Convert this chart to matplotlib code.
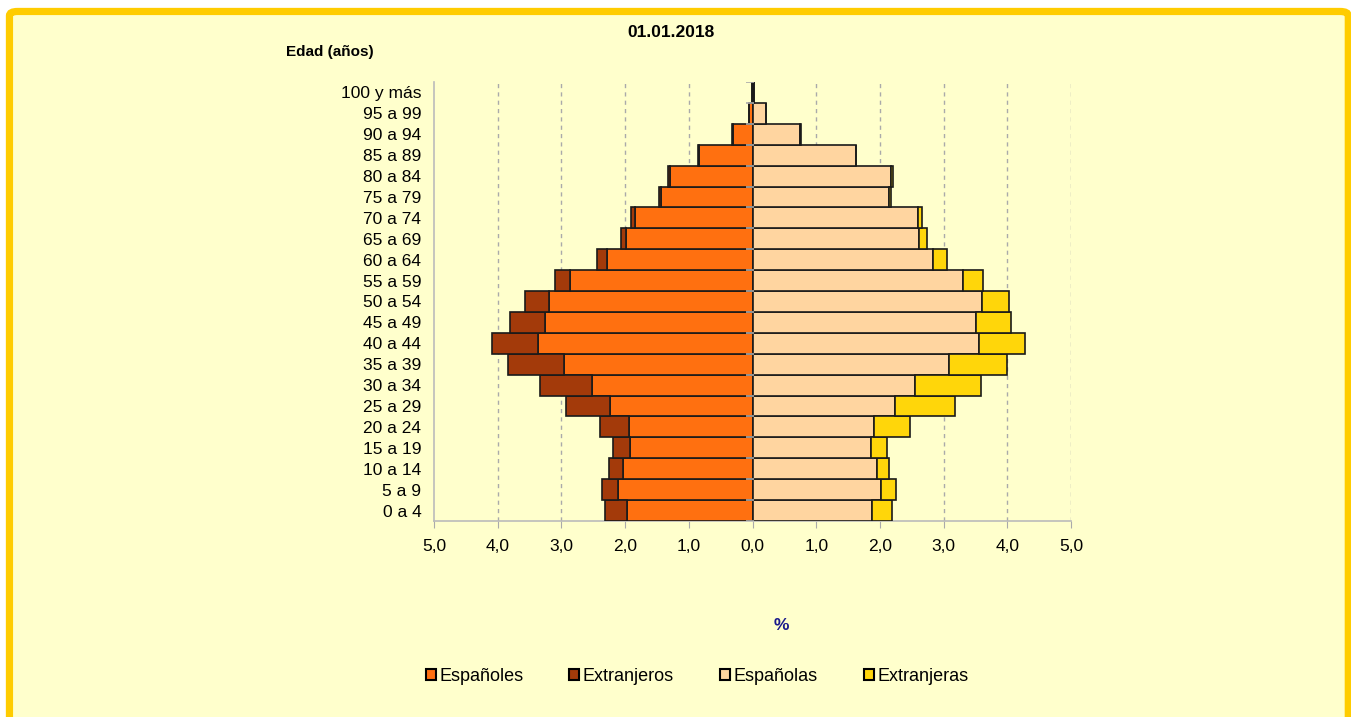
import numpy as np
import matplotlib
matplotlib.use('Agg')
import matplotlib.pyplot as plt
from matplotlib.patches import FancyBboxPatch, Patch
from matplotlib.ticker import FuncFormatter

plt.rcParams['font.family'] = ['Liberation Sans', 'DejaVu Sans']

# grupos de edad (de abajo hacia arriba)
edades = ['0 a 4', '5 a 9', '10 a 14', '15 a 19', '20 a 24', '25 a 29', '30 a 34',
          '35 a 39', '40 a 44', '45 a 49', '50 a 54', '55 a 59', '60 a 64', '65 a 69',
          '70 a 74', '75 a 79', '80 a 84', '85 a 89', '90 a 94', '95 a 99', '100 y más']

# porcentajes
espanoles = [1.97, 2.11, 2.04, 1.93, 1.94, 2.23, 2.52, 2.96, 3.37, 3.25, 3.20,
             2.86, 2.29, 1.98, 1.85, 1.44, 1.30, 0.84, 0.31, 0.06, 0.01]
extranjeros = [0.34, 0.25, 0.21, 0.26, 0.46, 0.70, 0.82, 0.87, 0.72, 0.55, 0.37,
               0.24, 0.15, 0.08, 0.05, 0.03, 0.02, 0.01, 0.01, 0.00, 0.00]
espanolas = [1.88, 2.01, 1.96, 1.86, 1.90, 2.24, 2.55, 3.09, 3.56, 3.50, 3.60,
             3.30, 2.84, 2.61, 2.59, 2.14, 2.18, 1.62, 0.75, 0.21, 0.03]
extranjeras = [0.31, 0.24, 0.19, 0.25, 0.57, 0.94, 1.03, 0.91, 0.71, 0.55, 0.42,
               0.31, 0.21, 0.13, 0.07, 0.04, 0.02, 0.01, 0.01, 0.00, 0.00]

titulo = '01.01.2018'
ticks_x = [-5, -4, -3, -2, -1, 0, 1, 2, 3, 4, 5]

c_esp_h = '#FF7010'
c_ext_h = '#A33A0A'
c_esp_m = '#FFD5A0'
c_ext_m = '#FFD60A'
fondo = '#FFFFCC'

fig = plt.figure(figsize=(13.51, 7.17), dpi=100)
fig.patch.set_facecolor('white')

# marco amarillo redondeado
marco = FancyBboxPatch((0.007, -0.05), 0.991, 1.034, transform=fig.transFigure,
                       boxstyle='round,pad=0,rounding_size=0.006',
                       facecolor=fondo, edgecolor='#FFCC00', linewidth=5.2, zorder=-10)
fig.patches.append(marco)

ax = fig.add_axes([0.3212, 0.2734, 0.4716, 0.6122])
ax.set_facecolor(fondo)

y = np.arange(len(edades))
esp_h = -np.array(espanoles)
ext_h = -np.array(extranjeros)
kw = dict(height=1.0, edgecolor='#1a1a1a', linewidth=1.2, zorder=3)
ax.barh(y, esp_h, color=c_esp_h, label='Españoles', **kw)
ax.barh(y, ext_h, left=esp_h, color=c_ext_h, label='Extranjeros', **kw)
ax.barh(y, espanolas, color=c_esp_m, label='Españolas', **kw)
ax.barh(y, extranjeras, left=espanolas, color=c_ext_m, label='Extranjeras', **kw)

ax.set_xlim(-5, 5)
ax.set_ylim(-0.5, len(edades) - 0.5)
ax.set_xticks(ticks_x)
ax.xaxis.set_major_formatter(FuncFormatter(lambda v, p: f'{abs(v):.1f}'.replace('.', ',')))
ax.set_yticks(y)
ax.set_yticklabels(edades)
ax.tick_params(axis='y', length=0, pad=9, labelsize=12.5)
ax.tick_params(axis='x', length=5, color='#aaaaaa', pad=8, labelsize=12.5)

for v in ticks_x:
    if v not in (-5, 0):
        ax.axvline(v, color='#aaaaaa', linestyle=(0, (3, 3)), linewidth=1, zorder=1)

# eje central con marcas
ax.axvline(0, color='#aaaaaa', linewidth=1.2, zorder=2)
for b in np.arange(len(edades) + 1) - 0.5:
    ax.plot([-0.1, 0.03], [b, b], color='#aaaaaa', linewidth=1.2, zorder=4,
            solid_capstyle='butt')

for s in ['top', 'right']:
    ax.spines[s].set_visible(False)
for s in ['left', 'bottom']:
    ax.spines[s].set_color('#bbbbbb')
    ax.spines[s].set_linewidth(1.2)

fig.text(0.497, 0.954, titulo, ha='center', va='center', fontsize=12.5, fontweight='bold')
fig.text(0.212, 0.927, 'Edad (años)', ha='left', va='center', fontsize=11, fontweight='bold')
fig.text(0.578, 0.128, '%', ha='center', va='center', fontsize=12.5, fontweight='bold',
         color='#1a1a8c')

handles = [Patch(facecolor=c, edgecolor='black', linewidth=1.5)
           for c in (c_esp_h, c_ext_h, c_esp_m, c_ext_m)]
labels = ['Españoles', 'Extranjeros', 'Españolas', 'Extranjeras']
fig.legend(handles, labels, loc='center', bbox_to_anchor=(0.516, 0.057), ncol=4,
           frameon=False, fontsize=13, handlelength=0.55, handleheight=0.6,
           handletextpad=0.2, columnspacing=2.55)

fig.savefig('out.png', dpi=100, facecolor=fig.get_facecolor())
